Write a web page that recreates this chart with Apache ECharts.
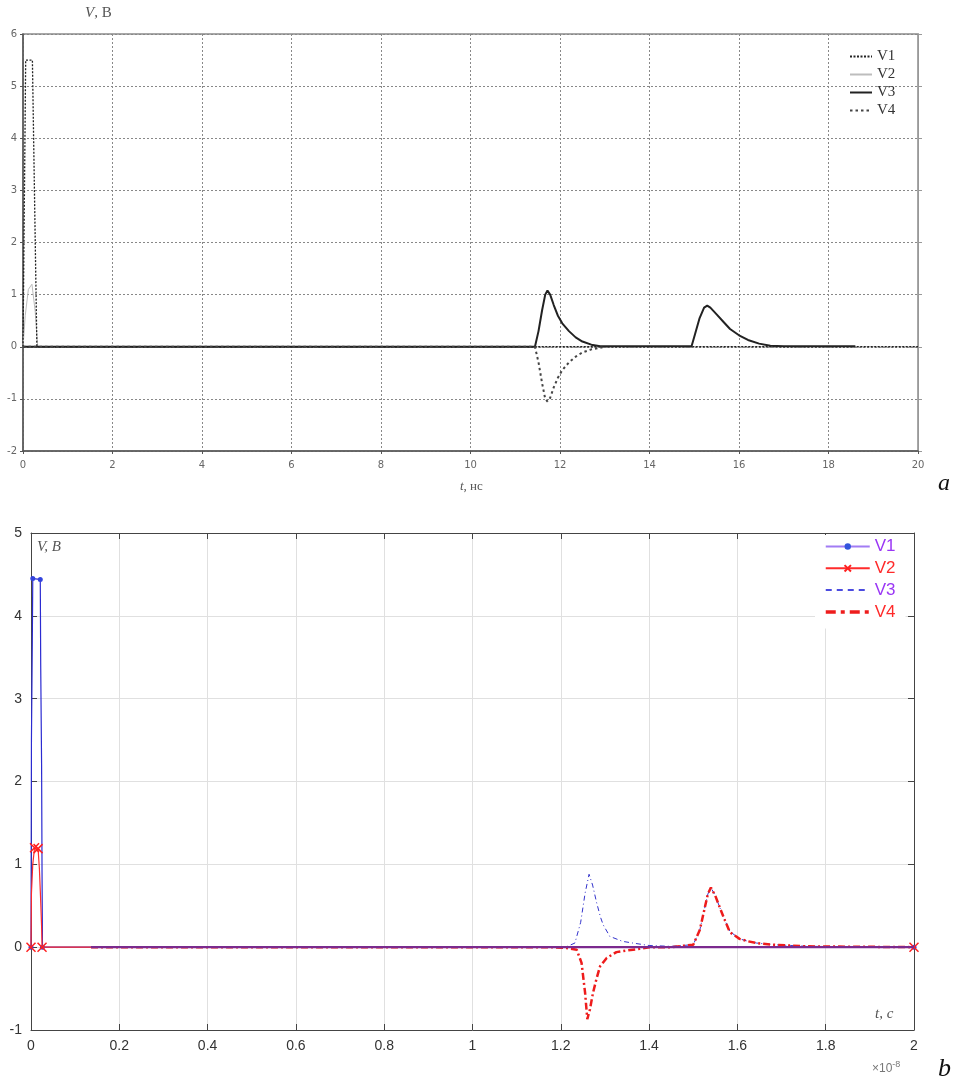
<!DOCTYPE html>
<html><head><meta charset="utf-8">
<script src="https://cdn.jsdelivr.net/npm/echarts@6/dist/echarts.min.js"></script>
<style>html,body{margin:0;padding:0;background:#fff}#c{width:955px;height:1086px}</style>
</head><body><div id="c"></div>
<script>
// ---------- Panel a (t, ns) ----------
const aV1_t = [0, 0.02, 0.06, 0.21, 0.31, 20];
const aV1_v = [0, 0, 5.5, 5.5, 0, 0];
const aV2_t = [0, 0.05, 0.12, 0.2, 0.27, 0.33, 20];
const aV2_v = [0, 0.6, 1.1, 1.2, 0.7, 0, 0];
const aV3_t = [0, 11.44, 11.52, 11.6, 11.67, 11.72, 11.78, 11.86, 11.95, 12.05, 12.2, 12.35, 12.5, 12.7, 12.9, 14.94, 15.02, 15.12, 15.22, 15.29, 15.36, 15.5, 15.65, 15.8, 16.0, 16.2, 16.45, 16.7, 17.0, 18.6];
const aV3_v = [0, 0, 0.3, 0.7, 1.0, 1.08, 1.0, 0.8, 0.6, 0.45, 0.3, 0.18, 0.1, 0.04, 0.01, 0.01, 0.25, 0.55, 0.75, 0.79, 0.75, 0.62, 0.48, 0.34, 0.22, 0.13, 0.06, 0.02, 0.01, 0.01];
const aV4_t = [0, 0.6, 11.44, 11.52, 11.6, 11.67, 11.72, 11.78, 11.86, 11.95, 12.05, 12.2, 12.35, 12.5, 12.7, 12.95];
const aV4_v = [0, 0, 0, -0.3, -0.7, -1.0, -1.05, -0.98, -0.78, -0.6, -0.45, -0.3, -0.19, -0.11, -0.05, -0.01];

// ---------- Panel b (t, 1e-8 s) ----------
const bV1_t = [0, 0.001, 0.003, 0.004, 0.021, 0.022, 0.024, 0.025, 0.026, 2];
const bV1_v = [0, 2.5, 3.7, 4.45, 4.44, 3.4, 2.2, 0.9, 0, 0];
const bV1_marks = [0, 3, 4, 8, 9];
const bV2_t = [0, 0.001, 0.004, 0.008, 0.016, 0.019, 0.022, 0.024, 0.025, 2];
const bV2_v = [0, 0.65, 1.0, 1.2, 1.19, 0.95, 0.55, 0.25, 0, 0];
const bV2_marks = [0, 3, 4, 8, 9];
const bV3_t = [0.136, 1.18, 1.215, 1.232, 1.245, 1.255, 1.264, 1.272, 1.281, 1.29, 1.296, 1.311, 1.34, 1.363, 1.40, 1.45, 1.5, 1.515, 1.525, 1.533, 1.54, 1.55, 1.56, 1.572, 1.583, 1.605, 1.625, 1.643, 1.68, 1.72, 1.76, 2];
const bV3_v = [0, 0, 0.01, 0.05, 0.3, 0.65, 0.88, 0.75, 0.54, 0.36, 0.27, 0.13, 0.07, 0.05, 0.02, 0.01, 0.03, 0.21, 0.45, 0.64, 0.72, 0.62, 0.48, 0.32, 0.19, 0.1, 0.07, 0.05, 0.03, 0.02, 0.01, 0];
const bV4_t = [0.136, 1.18, 1.213, 1.236, 1.247, 1.255, 1.26, 1.266, 1.273, 1.281, 1.289, 1.304, 1.326, 1.35, 1.379, 1.40, 1.45, 1.5, 1.515, 1.525, 1.533, 1.54, 1.55, 1.56, 1.572, 1.583, 1.605, 1.625, 1.643, 1.68, 1.72, 1.756, 2];
const bV4_v = [0, 0, -0.01, -0.03, -0.19, -0.55, -0.87, -0.75, -0.55, -0.38, -0.23, -0.13, -0.06, -0.04, -0.02, 0, 0, 0.03, 0.21, 0.45, 0.64, 0.72, 0.62, 0.48, 0.32, 0.18, 0.1, 0.07, 0.05, 0.03, 0.02, 0.01, 0];
const bBase_t = [0.136, 2];
const bBase_v = [0, 0];

const names = ['V1', 'V2', 'V3', 'V4'];

function pairs(t, v, marks) {
  return t.map((x, i) => {
    if (!marks) return [x, v[i]];
    return marks.includes(i) ? [x, v[i]] : { value: [x, v[i]], symbol: 'none' };
  });
}

const serif = 'Liberation Serif, Times New Roman, serif';
const sans = 'Liberation Sans, Arial, sans-serif';

const chart = echarts.init(document.getElementById('c'), null, { renderer: 'canvas' });

const option = {
  animation: false,
  backgroundColor: '#fff',
  title: [
    { text: '{i|V}, B', left: 85, top: 6, padding: 0,
      textStyle: { fontFamily: serif, fontSize: 15, fontWeight: 'normal', color: '#555',
        rich: { i: { fontFamily: serif, fontSize: 15, fontStyle: 'italic', color: '#555' } } } },
    { text: '{i|t}, нс', left: 460, top: 480, padding: 0,
      textStyle: { fontFamily: serif, fontSize: 13, fontWeight: 'normal', color: '#555',
        rich: { i: { fontFamily: serif, fontSize: 13, fontStyle: 'italic', color: '#555' } } } },
    { text: 'a', left: 938, top: 472, padding: 0,
      textStyle: { fontFamily: serif, fontSize: 24, fontStyle: 'italic', fontWeight: 'normal', color: '#111' } },
    { text: 'V, B', left: 37, top: 540, padding: 0,
      textStyle: { fontFamily: serif, fontSize: 15, fontStyle: 'italic', fontWeight: 'normal', color: '#555' } },
    { text: 't, c', left: 875, top: 1007, padding: 0,
      textStyle: { fontFamily: serif, fontSize: 15, fontStyle: 'italic', fontWeight: 'normal', color: '#555' } },
    { text: '×10{s|-8}', left: 872, top: 1060, padding: 0,
      textStyle: { fontFamily: sans, fontSize: 12, fontWeight: 'normal', color: '#777',
        rich: { s: { fontFamily: sans, fontSize: 9, color: '#777', padding: [0, 0, 9, 0] } } } },
    { text: 'b', left: 938, top: 1056, padding: 0,
      textStyle: { fontFamily: serif, fontSize: 26, fontStyle: 'italic', fontWeight: 'normal', color: '#111' } }
  ],
  grid: [
    { left: 23, top: 34, width: 895, height: 417, show: true, borderColor: '#8a8a8a', borderWidth: 1.5, backgroundColor: 'transparent' },
    { left: 31, top: 533, width: 883, height: 497, show: false }
  ],
  xAxis: [
    { gridIndex: 0, type: 'value', min: 0, max: 20, interval: 2,
      axisLine: { onZero: false, lineStyle: { color: '#555', width: 1.5 } },
      axisTick: { length: 3, lineStyle: { color: '#555' } },
      axisLabel: { color: '#666', fontSize: 10, margin: 9, fontFamily: 'DejaVu Sans' },
      splitLine: { show: true, lineStyle: { color: '#888', type: [2, 2], width: 1 } } },
    { gridIndex: 1, type: 'value', min: 0, max: 2, interval: 0.2, position: 'bottom',
      axisLine: { onZero: false, lineStyle: { color: '#444', width: 1 } },
      axisTick: { inside: true, length: 6, lineStyle: { color: '#444' } },
      axisLabel: { color: '#333', fontSize: 14, margin: 9, fontFamily: sans },
      splitLine: { show: true, lineStyle: { color: '#e0e0e0', width: 1 } } },
    { gridIndex: 1, type: 'value', min: 0, max: 2, interval: 0.2, position: 'top',
      axisLine: { onZero: false, lineStyle: { color: '#444', width: 1 } },
      axisTick: { inside: true, length: 6, lineStyle: { color: '#444' } },
      axisLabel: { show: false }, splitLine: { show: false } }
  ],
  yAxis: [
    { gridIndex: 0, type: 'value', min: -2, max: 6, interval: 1,
      axisLine: { onZero: false, lineStyle: { color: '#555', width: 1.5 } },
      axisTick: { length: 3, lineStyle: { color: '#555' } },
      axisLabel: { color: '#666', fontSize: 10, margin: 6, fontFamily: 'DejaVu Sans' },
      splitLine: { show: true, lineStyle: { color: '#888', type: [2, 2], width: 1 } } },
    { gridIndex: 0, type: 'value', min: -2, max: 6, interval: 1, position: 'right',
      axisLine: { onZero: false, lineStyle: { color: '#999', width: 1 } },
      axisTick: { length: 4, lineStyle: { color: '#999' } },
      axisLabel: { show: false }, splitLine: { show: false } },
    { gridIndex: 1, type: 'value', min: -1, max: 5, interval: 1, position: 'left',
      axisLine: { onZero: false, lineStyle: { color: '#444', width: 1 } },
      axisTick: { inside: true, length: 6, lineStyle: { color: '#444' } },
      axisLabel: { color: '#333', fontSize: 14, margin: 9, fontFamily: sans },
      splitLine: { show: true, lineStyle: { color: '#e0e0e0', width: 1 } } },
    { gridIndex: 1, type: 'value', min: -1, max: 5, interval: 1, position: 'right',
      axisLine: { onZero: false, lineStyle: { color: '#444', width: 1 } },
      axisTick: { inside: true, length: 6, lineStyle: { color: '#444' } },
      axisLabel: { show: false }, splitLine: { show: false } }
  ],
  legend: [
    { orient: 'vertical', left: 849, top: 49, padding: 0, itemWidth: 22, itemHeight: 10, itemGap: 3,
      formatter: n => n.slice(2),
      textStyle: { fontFamily: serif, fontSize: 15, color: '#333' },
      data: [
        { name: 'a:V1', itemStyle: { opacity: 0 } },
        { name: 'a:V2', itemStyle: { opacity: 0 } },
        { name: 'a:V3', itemStyle: { opacity: 0 } },
        { name: 'a:V4', itemStyle: { opacity: 0 } }
      ] },
    { orient: 'vertical', left: 815, top: 535, padding: [3, 10, 8, 9], backgroundColor: '#fff',
      itemWidth: 44, itemHeight: 8, itemGap: 4.8,
      formatter: n => n.slice(2),
      textStyle: { fontFamily: sans, fontSize: 17 },
      data: [
        { name: 'b:V1', lineStyle: { color: '#a27cf4' }, itemStyle: { color: '#3355dd' }, textStyle: { color: '#9a36f5' } },
        { name: 'b:V2', textStyle: { color: '#ff2a2a' } },
        { name: 'b:V3', lineStyle: { type: [6, 5], color: '#4b4be0' }, itemStyle: { opacity: 0 }, textStyle: { color: '#9a36f5' } },
        { name: 'b:V4', lineStyle: { type: [10, 5, 4, 5], width: 3.5 }, itemStyle: { opacity: 0 }, textStyle: { color: '#ff2a2a' } }
      ] }
  ],
  series: [
    // panel a
    { name: 'a:V1', type: 'line', xAxisIndex: 0, yAxisIndex: 0, data: pairs(aV1_t, aV1_v), symbol: 'none',
      lineStyle: { color: '#222', width: 1.3, type: [2, 1.5] }, itemStyle: { color: '#222' }, z: 4 },
    { name: 'a:V2', type: 'line', xAxisIndex: 0, yAxisIndex: 0, data: pairs(aV2_t, aV2_v), symbol: 'none',
      lineStyle: { color: '#bdbdbd', width: 1 }, itemStyle: { color: '#bdbdbd' }, z: 3 },
    { name: 'a:V3', type: 'line', xAxisIndex: 0, yAxisIndex: 0, data: pairs(aV3_t, aV3_v), symbol: 'none',
      lineStyle: { color: '#222', width: 2 }, itemStyle: { color: '#222' }, z: 3 },
    { name: 'a:V4', type: 'line', xAxisIndex: 0, yAxisIndex: 0, data: pairs(aV4_t, aV4_v), symbol: 'none',
      lineStyle: { color: '#444', width: 2, type: [2.5, 3] }, itemStyle: { color: '#444' }, z: 4 },
    // panel b
    { name: 'b:V1', type: 'line', xAxisIndex: 1, yAxisIndex: 2, data: pairs(bV1_t, bV1_v, bV1_marks),
      symbol: 'circle', symbolSize: 5, showSymbol: true,
      lineStyle: { color: '#2b2bd1', width: 1.2 }, itemStyle: { color: '#3344dd' }, z: 3 },
    { name: 'b:V2', type: 'line', xAxisIndex: 1, yAxisIndex: 2, data: pairs(bV2_t, bV2_v, bV2_marks),
      symbol: 'path://M0 0L10 10M10 0L0 10', symbolSize: 9, showSymbol: true,
      lineStyle: { color: '#ff2b2b', width: 1.2 }, itemStyle: { color: '#ff2020', borderColor: '#ff2020', borderWidth: 1.5 }, z: 4 },
    { name: 'b:V3', type: 'line', xAxisIndex: 1, yAxisIndex: 2, data: pairs(bV3_t, bV3_v), symbol: 'none',
      lineStyle: { color: '#3333cc', width: 1, type: [5, 3, 1, 3] }, itemStyle: { color: '#3333cc' }, z: 3 },
    { name: 'b:V4', type: 'line', xAxisIndex: 1, yAxisIndex: 2, data: pairs(bV4_t, bV4_v), symbol: 'none',
      lineStyle: { color: '#ee1c1c', width: 2.5, type: [7, 3, 2, 3] }, itemStyle: { color: '#ee1c1c' }, z: 4 },
    { name: 'b:base', type: 'line', xAxisIndex: 1, yAxisIndex: 2, data: pairs(bBase_t, bBase_v), symbol: 'none',
      lineStyle: { color: '#7b2a8e', width: 2.2 }, z: 5 }
  ]
};
chart.setOption(option);
</script>
</body></html>
